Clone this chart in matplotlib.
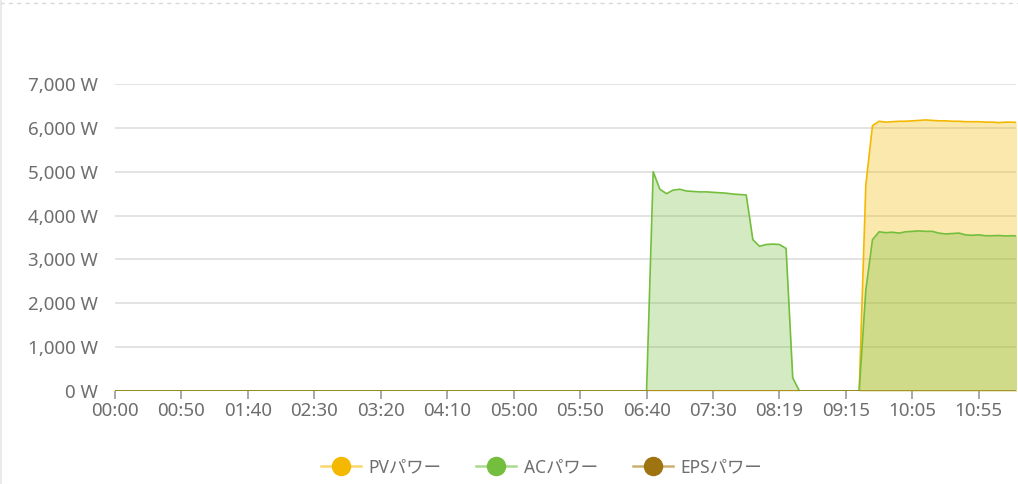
import matplotlib
matplotlib.use("Agg")
import matplotlib.pyplot as plt
from matplotlib.lines import Line2D
from matplotlib.ticker import FuncFormatter

plt.rcParams['font.family'] = ['Noto Sans', 'Noto Sans CJK JP', 'DejaVu Sans']

# tick labels (every 10th sample on the category axis)
tick_labels = ["00:00", "00:50", "01:40", "02:30", "03:20", "04:10", "05:00",
               "05:50", "06:40", "07:30", "08:19", "09:15", "10:05", "10:55"]
n_points = 137

# AC power, morning block (samples 80..103)
ac_morning = [0, 5000, 4600, 4500, 4580, 4600, 4560, 4550, 4540, 4540, 4530,
              4520, 4510, 4490, 4480, 4470, 3450, 3300, 3340, 3350, 3340,
              3250, 300, 0]
# AC power, late block (samples 112..136)
ac_late = [0, 2300, 3450, 3630, 3610, 3620, 3600, 3630, 3640, 3650, 3640,
           3640, 3600, 3580, 3590, 3600, 3560, 3550, 3560, 3540, 3540,
           3545, 3535, 3540, 3535]
# PV power (samples 112..136)
pv_late = [0, 4700, 6050, 6150, 6130, 6140, 6150, 6150, 6160, 6170, 6180,
           6170, 6160, 6160, 6150, 6150, 6140, 6140, 6140, 6130, 6130,
           6120, 6130, 6130, 6120]

ac = [0] * 80 + ac_morning + [0] * 8 + ac_late
pv = [0] * 112 + pv_late
eps = [0] * n_points
x = list(range(n_points))

pv_col = "#f5b800"
ac_col = "#73be3c"
eps_col = "#9e7411"
txt_col = "#6e6e6e"

fig = plt.figure(figsize=(10.18, 4.84), dpi=100)
ax = fig.add_axes([115 / 1018, 1 - 391 / 484, (1016 - 115) / 1018, (391 - 84) / 484])

ax.fill_between(x, pv, color=pv_col, alpha=0.32, linewidth=0, zorder=2)
ax.fill_between(x, ac, color=ac_col, alpha=0.31, linewidth=0, zorder=3)
ax.plot(x, pv, color=pv_col, lw=1.2, zorder=4)
ax.plot(x, ac, color=ac_col, lw=1.2, zorder=5)
ax.plot(x, eps, color=eps_col, lw=1.2, alpha=0.8, zorder=6)

ax.set_xlim(0, 135.6)
ax.set_ylim(0, 7000)
ax.set_yticks(range(0, 7001, 1000))
ax.yaxis.set_major_formatter(FuncFormatter(lambda v, p: f"{int(v):,} W"))
ax.set_xticks(range(0, 131, 10))
ax.set_xticklabels(tick_labels)

ax.grid(axis='y', color="#e3e3e3", lw=1.4, zorder=1)
ax.set_axisbelow(True)
for s in ax.spines.values():
    s.set_visible(False)
ax.tick_params(axis='y', length=0, pad=12, labelsize=13.5, labelcolor=txt_col)
ax.tick_params(axis='x', length=6, width=1.2, color="#999999", pad=2,
               labelsize=13.5, labelcolor=txt_col)

# frame decoration: dashed top border and thin left edge
fig.add_artist(Line2D([0, 1], [1 - 3 / 484, 1 - 3 / 484], transform=fig.transFigure,
                      color="#d8d8d8", lw=1, ls=(0, (3, 3))))
fig.add_artist(Line2D([0.0008, 0.0008], [0, 1], transform=fig.transFigure,
                      color="#e6e6e6", lw=1.2))

handles = [
    Line2D([], [], color="#fad66e", lw=1.8, marker='o', ms=13,
           markerfacecolor=pv_col, markeredgecolor=pv_col),
    Line2D([], [], color="#acd98c", lw=1.8, marker='o', ms=13,
           markerfacecolor=ac_col, markeredgecolor=ac_col),
    Line2D([], [], color="#ccb070", lw=1.8, marker='o', ms=13,
           markerfacecolor=eps_col, markeredgecolor=eps_col),
]
fig.legend(handles, ["PVパワー", "ACパワー", "EPSパワー"], loc='center',
           bbox_to_anchor=(0.532, 0.034), ncol=3, frameon=False,
           handlelength=2.3, handletextpad=0.45, columnspacing=2.0,
           prop={'size': 12.5}, labelcolor=txt_col)

fig.savefig("out.png", dpi=100)
